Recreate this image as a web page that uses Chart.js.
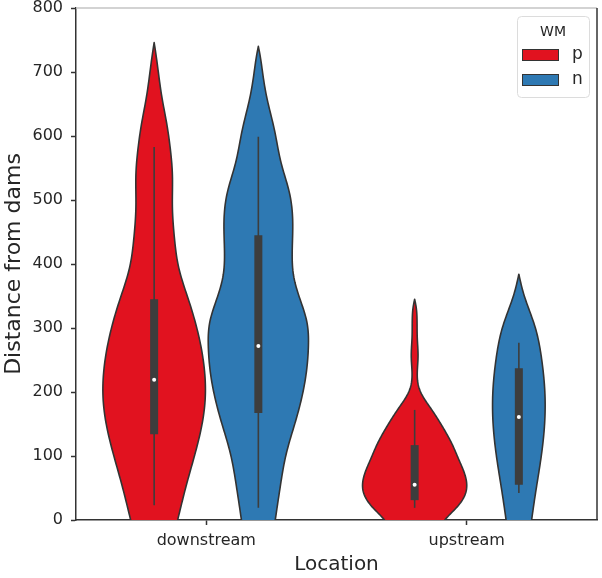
<!DOCTYPE html>
<html>
<head>
<meta charset="utf-8">
<script src="https://cdn.jsdelivr.net/npm/chart.js@4/dist/chart.umd.min.js"></script>
<style>
  html, body { margin: 0; padding: 0; background: #fff; }
  canvas { display: block; }
</style>
</head>
<body>
<canvas id="c" width="602" height="578"></canvas>
<script>
// ---------------- DATA ----------------
const categories = ['downstream', 'upstream'];
const hues = ['p', 'n'];
const hueColors = ['#e1121f', '#2e79b3'];
const yTicks = [0, 100, 200, 300, 400, 500, 600, 700, 800];

// kernel density profiles (Distance levels and relative half-width, 1 = widest)
const pDownLevels  = [-20, 3, 52, 105, 150, 190, 230, 286, 339, 395, 440, 490, 540, 580, 620, 660, 700, 730, 746];
const pDownDensity = [0.39, 0.46, 0.61, 0.79, 0.92, 0.98, 0.97, 0.86, 0.68, 0.47, 0.39, 0.35, 0.35, 0.31, 0.24, 0.15, 0.08, 0.03, 0];
const nDownLevels  = [-20, 3, 52, 105, 156, 219, 270, 310, 345, 380, 420, 465, 510, 557, 609, 661, 700, 725, 740];
const nDownDensity = [0.29, 0.33, 0.42, 0.54, 0.72, 0.90, 0.96, 0.93, 0.80, 0.68, 0.65, 0.66, 0.60, 0.44, 0.31, 0.16, 0.08, 0.035, 0];
const pUpLevels    = [-20, 3, 20, 40, 55, 72, 94, 120, 145, 172, 190, 205, 225, 255, 285, 315, 332, 345];
const pUpDensity   = [0.42, 0.61, 0.81, 0.97, 1.0, 0.96, 0.85, 0.71, 0.54, 0.33, 0.18, 0.09, 0.05, 0.065, 0.05, 0.045, 0.03, 0];
const nUpLevels    = [-20, 3, 42, 94, 145, 198, 250, 302, 354, 384];
const nUpDensity   = [0.21, 0.25, 0.32, 0.42, 0.49, 0.50, 0.44, 0.31, 0.09, 0];

// box statistics [downstream, upstream]
const pMedian = [219, 55];
const pQ1 = [134, 31];
const pQ3 = [345, 117];
const pWhiskLow = [23, 19];
const pWhiskHigh = [583, 172];
const nMedian = [272, 161];
const nQ1 = [167, 55];
const nQ3 = [445, 237];
const nWhiskLow = [19, 42];
const nWhiskHigh = [599, 277];

// ---------------- BUILD ----------------
const hueOffset = [-0.2, 0.2];
const maxHalfWidth = 0.2;
const profiles = [
  [[pDownLevels, pDownDensity], [pUpLevels, pUpDensity]],
  [[nDownLevels, nDownDensity], [nUpLevels, nUpDensity]]
];
const boxes = [
  {med: pMedian, q1: pQ1, q3: pQ3, lo: pWhiskLow, hi: pWhiskHigh},
  {med: nMedian, q1: nQ1, q3: nQ3, lo: nWhiskLow, hi: nWhiskHigh}
];

const FONT = "'DejaVu Sans', sans-serif";
const INK = '#262626';
const EDGE = '#333333';

// natural cubic spline through the read points, used only to draw a smooth outline
function spline(xs, ys) {
  const n = xs.length, h = [], al = [0], l = [1], mu = [0], z = [0], c = new Array(n).fill(0), b = [], d = [];
  for (let i = 0; i < n - 1; i++) h.push(xs[i + 1] - xs[i]);
  for (let i = 1; i < n - 1; i++) al.push(3 / h[i] * (ys[i + 1] - ys[i]) - 3 / h[i - 1] * (ys[i] - ys[i - 1]));
  for (let i = 1; i < n - 1; i++) {
    l[i] = 2 * (xs[i + 1] - xs[i - 1]) - h[i - 1] * mu[i - 1];
    mu[i] = h[i] / l[i];
    z[i] = (al[i] - h[i - 1] * z[i - 1]) / l[i];
  }
  for (let j = n - 2; j >= 0; j--) {
    c[j] = (j === 0 ? 0 : z[j] - mu[j] * c[j + 1]);
    b[j] = (ys[j + 1] - ys[j]) / h[j] - h[j] * (c[j + 1] + 2 * c[j]) / 3;
    d[j] = (c[j + 1] - c[j]) / (3 * h[j]);
  }
  return v => {
    let i = 0;
    while (i < n - 2 && v > xs[i + 1]) i++;
    const t = v - xs[i];
    return ys[i] + b[i] * t + c[i] * t * t + d[i] * t * t * t;
  };
}

const violinPlugin = {
  id: 'violins',
  beforeDatasetsDraw(chart) {
    const {ctx, chartArea: a, scales: {x, y}} = chart;
    ctx.save();
    ctx.beginPath();
    ctx.rect(a.left, a.top, a.right - a.left, a.bottom - a.top);
    ctx.clip();
    hues.forEach((h, i) => {
      categories.forEach((c, j) => {
        const center = j + hueOffset[i];
        const [lv, dn] = profiles[i][j];
        const f = spline(lv, dn);
        const lo = lv[0], hi = lv[lv.length - 1];
        const samples = [];
        const steps = 200;
        for (let k = 0; k <= steps; k++) {
          const v = lo + (hi - lo) * k / steps;
          samples.push([v, Math.max(0, f(v))]);
        }
        ctx.beginPath();
        samples.forEach(([v, w], k) => {
          const px = x.getPixelForValue(center + w * maxHalfWidth), py = y.getPixelForValue(v);
          if (k === 0) ctx.moveTo(px, py); else ctx.lineTo(px, py);
        });
        for (let k = samples.length - 1; k >= 0; k--) {
          const [v, w] = samples[k];
          ctx.lineTo(x.getPixelForValue(center - w * maxHalfWidth), y.getPixelForValue(v));
        }
        ctx.closePath();
        ctx.fillStyle = hueColors[i];
        ctx.fill();
        ctx.lineWidth = 1.6;
        ctx.lineJoin = 'round';
        ctx.strokeStyle = EDGE;
        ctx.stroke();
        // whisker
        const cx = x.getPixelForValue(center);
        const b = boxes[i];
        ctx.beginPath();
        ctx.moveTo(cx, y.getPixelForValue(b.lo[j]));
        ctx.lineTo(cx, y.getPixelForValue(b.hi[j]));
        ctx.lineWidth = 1.6;
        ctx.strokeStyle = '#3d3d3d';
        ctx.stroke();
        // box
        ctx.beginPath();
        ctx.moveTo(cx, y.getPixelForValue(b.q1[j]));
        ctx.lineTo(cx, y.getPixelForValue(b.q3[j]));
        ctx.lineWidth = 8;
        ctx.stroke();
      });
    });
    ctx.restore();
  },
  afterDraw(chart) {
    const {ctx, chartArea: a} = chart;
    ctx.save();
    // top and right spines
    ctx.lineWidth = 1.5;
    ctx.strokeStyle = '#c4c4c4';
    ctx.beginPath();
    ctx.moveTo(a.left, a.top);
    ctx.lineTo(a.right, a.top);
    ctx.stroke();
    ctx.strokeStyle = '#333';
    ctx.beginPath();
    ctx.moveTo(a.right, a.top);
    ctx.lineTo(a.right, a.bottom);
    ctx.stroke();
    // legend
    const bx = a.right - 80, by = a.top + 8, bw = 72, bh = 81;
    ctx.beginPath();
    ctx.roundRect(bx + 0.5, by + 0.5, bw, bh, 4);
    ctx.fillStyle = 'rgba(255,255,255,0.9)';
    ctx.fill();
    ctx.lineWidth = 1;
    ctx.strokeStyle = '#dcdcdc';
    ctx.stroke();
    ctx.fillStyle = INK;
    ctx.font = '14px ' + FONT;
    ctx.textAlign = 'center';
    ctx.textBaseline = 'middle';
    ctx.fillText('WM', bx + 36, by + 16);
    hues.forEach((h, i) => {
      const py = by + 33 + i * 25;
      ctx.fillStyle = hueColors[i];
      ctx.fillRect(bx + 5, py, 37, 12);
      ctx.lineWidth = 1;
      ctx.strokeStyle = EDGE;
      ctx.strokeRect(bx + 5.5, py + 0.5, 36, 11);
      ctx.fillStyle = INK;
      ctx.font = '17px ' + FONT;
      ctx.textAlign = 'left';
      ctx.fillText(h, bx + 55, py + 6);
    });
    ctx.restore();
  }
};

const datasets = hues.map((h, i) => ({
  label: h,
  data: categories.map((c, j) => ({x: j + hueOffset[i], y: boxes[i].med[j]})),
  pointRadius: 2,
  pointBackgroundColor: '#ffffff',
  pointBorderWidth: 0,
  pointHoverRadius: 2
}));

new Chart(document.getElementById('c'), {
  type: 'scatter',
  data: {datasets},
  options: {
    responsive: false,
    animation: false,
    events: [],
    layout: {padding: {top: 8, right: 5, left: 0, bottom: 0}},
    plugins: {legend: {display: false}, tooltip: {enabled: false}},
    scales: {
      x: {
        type: 'linear',
        min: -0.5,
        max: 1.5,
        afterBuildTicks: s => { s.ticks = categories.map((c, i) => ({value: i})); },
        afterFit: s => { s.height = 58; s.paddingLeft = 0; s.paddingRight = 0; },
        ticks: {
          callback: (v, idx) => categories[idx],
          font: {family: FONT, size: 16},
          color: INK,
          padding: 6,
          maxRotation: 0
        },
        grid: {drawOnChartArea: false, tickLength: 5, color: '#333', tickWidth: 1.5},
        border: {color: '#333', width: 1.5},
        title: {display: true, text: 'Location', font: {family: FONT, size: 20}, color: INK, padding: {top: 0, bottom: 1}}
      },
      y: {
        min: 0,
        max: 800,
        afterBuildTicks: s => { s.ticks = yTicks.map(v => ({value: v})); },
        afterFit: s => { s.width = 76; s.paddingTop = 0; s.paddingBottom = 0; },
        ticks: {font: {family: FONT, size: 16}, color: INK, padding: 8},
        grid: {drawOnChartArea: false, tickLength: 5, color: '#333', tickWidth: 1.5},
        border: {color: '#333', width: 1.5},
        title: {display: true, text: 'Distance from dams', font: {family: FONT, size: 22}, color: INK, padding: {top: 1, bottom: 0}}
      }
    }
  },
  plugins: [violinPlugin]
});
</script>
</body>
</html>
